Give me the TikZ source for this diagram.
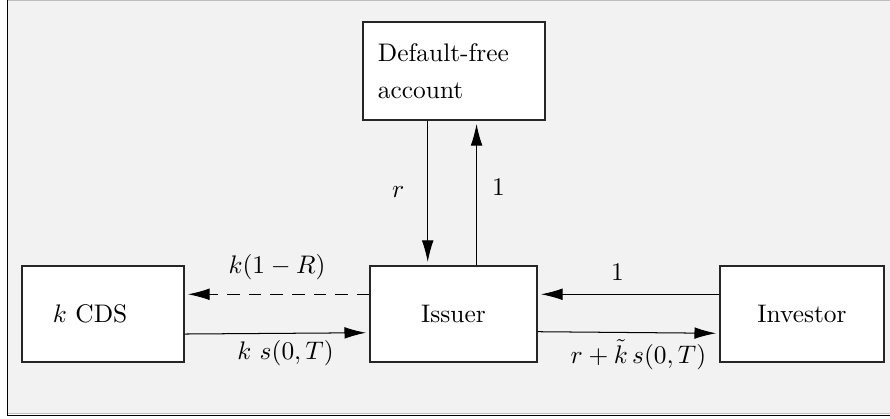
\documentclass[tikz,border=0pt]{standalone}
\usepackage{amsmath}
\usetikzlibrary{arrows.meta,calc}

\begin{document}
\begin{tikzpicture}[x=0.01384cm,y=-0.01384cm,
  box/.style={draw=black!85,line width=0.5pt,fill=white,minimum height=1.33cm},
  flow/.style={draw=black,line width=0.4pt,-{Latex[length=8.5pt,width=4.6pt]},shorten >=1.3pt}]
% frame
\useasboundingbox (0,0) rectangle (890,418);
\fill[black!5] (7,0) rectangle (890,414);
\draw[black!25,line width=0.4pt] (7,0.5) -- (890,0.5);
\draw[black!25,line width=0.4pt] (7,413.3) -- (890,413.3);
\draw[black,line width=0.55pt] (7.3,0) -- (7.3,415.3) -- (890,415.3);

\node[box,minimum height=1.356cm,text width=2.104cm,inner xsep=0.2076cm,align=left] (acct) at (454,71) {Default-free\\[2.6pt]account};
\node[box,text width=1.384cm,inner xsep=0.429cm,align=left] (cds) at (103,314) {$k$ CDS};
\node[box,minimum width=2.311cm] (iss) at (453.5,314) {Issuer};
\node[box,minimum width=2.270cm] (inv) at (802,314) {Investor};

\draw[flow] ([xshift=-0.364cm]acct.south) -- ([xshift=-0.364cm]acct.south |- iss.north)
  node[midway,xshift=-0.41cm,yshift=0.01cm] {$r$};
\draw[flow] ([xshift=0.312cm]acct.south |- iss.north) -- ([xshift=0.312cm]acct.south)
  node[midway,xshift=0.304cm,yshift=0.08cm] {$1$};
\draw[flow,dashed,dash pattern=on 5pt off 3.5pt] ([yshift=0.273cm]iss.west) -- ([yshift=0.273cm]cds.east)
  node[midway,yshift=0.375cm] {$k(1-R)$};
\draw[flow] ([yshift=-0.277cm]cds.east) -- ([yshift=-0.259cm]iss.west)
  node[midway,xshift=0.118cm,yshift=-0.28cm] {$k\ s(0,T)$};
\draw[flow] ([yshift=0.273cm]inv.west) -- ([yshift=0.273cm]iss.east)
  node[midway,xshift=-0.152cm,yshift=0.31cm] {$1$};
\draw[flow] ([yshift=-0.245cm]iss.east) -- ([yshift=-0.267cm]inv.west)
  node[midway,xshift=0.138cm,yshift=-0.31cm] {$r+\tilde{k}\,s(0,T)$};
\end{tikzpicture}
\end{document}
